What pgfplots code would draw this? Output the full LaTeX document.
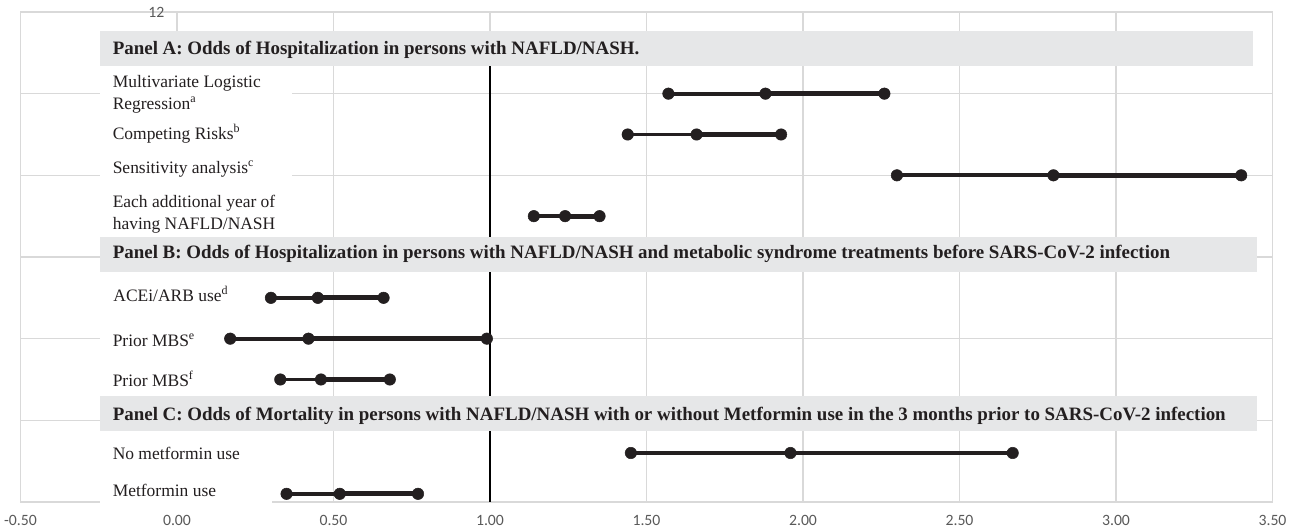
\documentclass[border=0pt]{standalone}
\usepackage{fontspec}
\setmainfont{Liberation Serif}
\newfontfamily\carlito{Carlito}
\usepackage{pgfplots}
\usepackage{pgfplotstable}
\pgfplotsset{compat=1.18}
\definecolor{dumb}{HTML}{231F20}
\definecolor{gridc}{HTML}{D9D9D9}
\definecolor{panelc}{HTML}{E6E7E8}
\definecolor{tickc}{HTML}{595959}
\newcommand{\lab}{\fontsize{13.1}{16.5}\selectfont}
\newcommand{\hdr}{\fontsize{14.2}{17}\selectfont\bfseries}
\newcommand{\fnm}[1]{\raisebox{0.40em}{\fontsize{9}{9}\selectfont #1}}
\pgfplotstableread{
y lo mid hi
10 1.57 1.88 2.26
9 1.44 1.66 1.93
8 2.30 2.80 3.40
7 1.14 1.24 1.35
5 0.30 0.45 0.66
4 0.17 0.42 0.99
3 0.33 0.46 0.68
1.2 1.45 1.96 2.67
0.2 0.35 0.52 0.77
}\ordata
\begin{document}
\begin{tikzpicture}
\begin{axis}[name=ax,
  scale only axis, width=939pt, height=367.5pt,
  xmin=-0.5, xmax=3.5, ymin=0, ymax=12,
  xtick={-0.5,0,0.5,1,1.5,2,2.5,3,3.5},
  xticklabels={-0.50,0.00,0.50,1.00,1.50,2.00,2.50,3.00,3.50},
  ytick={0,2,4,6,8,10,12}, yticklabels={},
  major tick length=0pt,
  grid=major, grid style={draw=gridc, line width=0.9pt},
  axis line style={draw=none},
  x tick label style={font=\carlito\fontsize{11.8}{13}\selectfont, text=tickc, yshift=-6.2pt},
  clip=false,
]
% white label backgrounds
\fill[white] (axis cs:-0.246,6.50) rectangle (axis cs:0.369,10.68);
\fill[white] (axis cs:-0.246,2.60) rectangle (axis cs:0.276,5.64);
\fill[white] (axis cs:-0.246,-0.05) rectangle (axis cs:0.305,1.74);
\node[anchor=east, font=\carlito\fontsize{11.8}{13}\selectfont, text=tickc, xshift=-6pt] at (axis cs:0,12) {12};
% reference line
\addplot[draw=black, line width=1.2pt, mark=none] coordinates {(1,0) (1,11)};
% dumbbells
\addplot[only marks, mark=none, error bars/.cd, x dir=minus, x explicit, error mark=none,
  error bar style={line width=2.8pt, draw=dumb}]
  table[x=mid, y=y, x error minus expr={\thisrow{mid}-\thisrow{lo}}] {\ordata};
\addplot[only marks, mark=none, error bars/.cd, x dir=plus, x explicit, error mark=none,
  error bar style={line width=3.6pt, draw=dumb}]
  table[x=mid, y=y, x error plus expr={\thisrow{hi}-\thisrow{mid}}] {\ordata};
\addplot[only marks, mark=*, mark size=4.3pt, color=dumb, mark options={fill=dumb, draw=dumb}] table[x=lo, y=y] {\ordata};
\addplot[only marks, mark=*, mark size=4.3pt, color=dumb, mark options={fill=dumb, draw=dumb}] table[x=mid, y=y] {\ordata};
\addplot[only marks, mark=*, mark size=4.3pt, color=dumb, mark options={fill=dumb, draw=dumb}] table[x=hi, y=y] {\ordata};
% panel headers
\fill[panelc] (axis cs:-0.246,10.68) rectangle (axis cs:3.439,11.54);
\fill[panelc] (axis cs:-0.246,5.64) rectangle (axis cs:3.452,6.50);
\fill[panelc] (axis cs:-0.246,1.74) rectangle (axis cs:3.452,2.60);
\node[anchor=base west, inner sep=0, font=\hdr, text=dumb] at (axis cs:-0.206,10.948) {Panel A: Odds of Hospitalization in persons with NAFLD/NASH.};
\node[anchor=base west, inner sep=0, font=\hdr, text=dumb] at (axis cs:-0.206,5.951) {Panel B: Odds of Hospitalization in persons with NAFLD/NASH and metabolic syndrome treatments before SARS-CoV-2 infection};
\node[anchor=base west, inner sep=0, font=\hdr, text=dumb] at (axis cs:-0.206,2.008) {Panel C: Odds of Mortality in persons with NAFLD/NASH with or without Metformin use in the 3 months prior to SARS-CoV-2 infection};
% row labels
\node[anchor=base west, inner sep=0, font=\lab, text=dumb] at (axis cs:-0.206,10.16) {Multivariate Logistic};
\node[anchor=base west, inner sep=0, font=\lab, text=dumb] at (axis cs:-0.206,9.61) {Regression\fnm{a}};
\node[anchor=base west, inner sep=0, font=\lab, text=dumb] at (axis cs:-0.206,8.87) {Competing Risks\fnm{b}};
\node[anchor=base west, inner sep=0, font=\lab, text=dumb] at (axis cs:-0.206,8.05) {Sensitivity analysis\fnm{c}};
\node[anchor=base west, inner sep=0, font=\lab, text=dumb] at (axis cs:-0.206,7.21) {Each additional year of};
\node[anchor=base west, inner sep=0, font=\lab, text=dumb] at (axis cs:-0.206,6.68) {having NAFLD/NASH};
\node[anchor=base west, inner sep=0, font=\lab, text=dumb] at (axis cs:-0.204,4.91) {ACEi/ARB use\fnm{d}};
\node[anchor=base west, inner sep=0, font=\lab, text=dumb] at (axis cs:-0.206,3.80) {Prior MBS\fnm{e}};
\node[anchor=base west, inner sep=0, font=\lab, text=dumb] at (axis cs:-0.206,2.82) {Prior MBS\fnm{f}};
\node[anchor=base west, inner sep=0, font=\lab, text=dumb] at (axis cs:-0.206,1.05) {No metformin use};
\node[anchor=base west, inner sep=0, font=\lab, text=dumb] at (axis cs:-0.206,0.13) {Metformin use};
\end{axis}
\pgfresetboundingbox
\path[use as bounding box] ([shift={(-15.375pt,-21.75pt)}]ax.south west) rectangle ([shift={(19.875pt,9pt)}]ax.north east);
\end{tikzpicture}
\end{document}
